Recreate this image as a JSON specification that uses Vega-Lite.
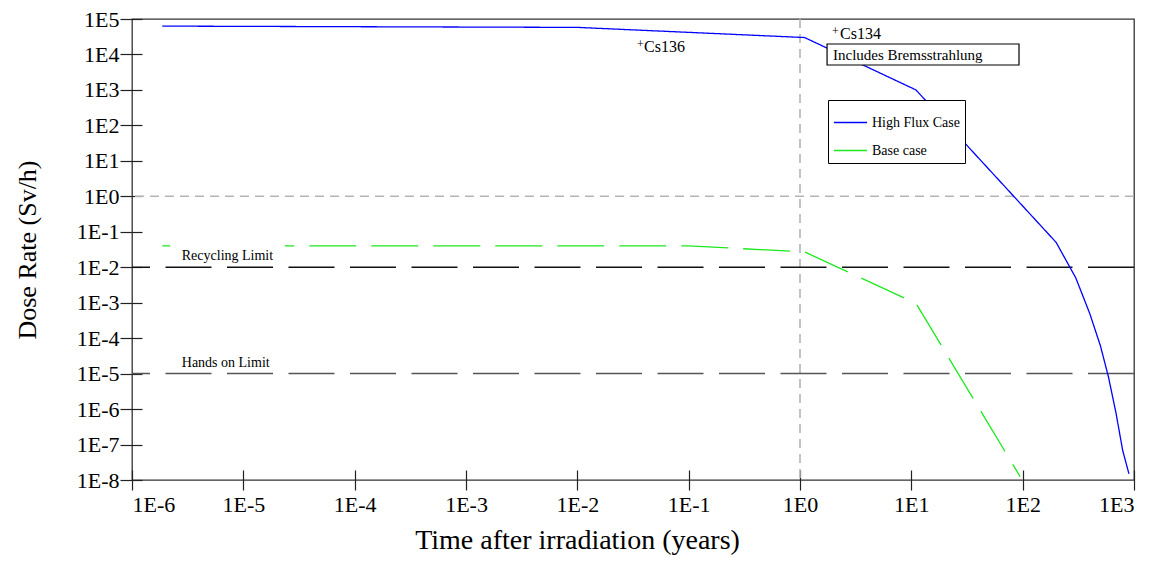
{
  "$schema": "https://vega.github.io/schema/vega-lite/v6.json",
  "width": 1002,
  "height": 461,
  "autosize": {"type": "none"},
  "padding": {"left": 132, "top": 19, "right": 34, "bottom": 91},
  "background": "white",
  "config": {
    "view": {"stroke": "#333333", "strokeWidth": 1.3},
    "font": "Liberation Serif",
    "axis": {
      "grid": false,
      "domain": false,
      "labelFont": "Liberation Serif",
      "titleFont": "Liberation Serif",
      "labelColor": "black",
      "titleColor": "black",
      "tickColor": "#222222",
      "tickWidth": 1.2,
      "titleFontWeight": "normal",
      "labelFontSize": 22
    }
  },
  "layer": [
    {
      "data": {"values": [{"ref": 1}]},
      "mark": {"type": "rule", "color": "#b5b5b5", "strokeWidth": 1.6, "strokeDash": [9, 6]},
      "encoding": {"y": {"field": "ref", "type": "quantitative"}}
    },
    {
      "data": {"values": [{"ref": 1}]},
      "mark": {"type": "rule", "color": "#b5b5b5", "strokeWidth": 1.6, "strokeDash": [9, 6]},
      "encoding": {"x": {"field": "ref", "type": "quantitative"}}
    },
    {
      "data": {"values": [{"limit": "Recycling Limit", "dose": 0.01}]},
      "mark": {"type": "rule", "strokeWidth": 1.5, "strokeDash": [46, 15.5], "color": "#111111"},
      "encoding": {"y": {"field": "dose", "type": "quantitative"}}
    },
    {
      "data": {"values": [{"limit": "Hands on Limit", "dose": 0.00001}]},
      "mark": {"type": "rule", "strokeWidth": 1.5, "strokeDash": [46, 15.5], "color": "#555555"},
      "encoding": {"y": {"field": "dose", "type": "quantitative"}}
    },
    {
      "data": {"values": [
        {"series": "High Flux Case", "t": 0.00000187, "dose": 63000},
        {"series": "High Flux Case", "t": 0.01, "dose": 58000},
        {"series": "High Flux Case", "t": 1.1, "dose": 30000},
        {"series": "High Flux Case", "t": 11, "dose": 1000},
        {"series": "High Flux Case", "t": 200, "dose": 0.05},
        {"series": "High Flux Case", "t": 300, "dose": 0.005},
        {"series": "High Flux Case", "t": 400, "dose": 0.0005},
        {"series": "High Flux Case", "t": 500, "dose": 0.00006},
        {"series": "High Flux Case", "t": 590, "dose": 0.000008},
        {"series": "High Flux Case", "t": 690, "dose": 0.00000076},
        {"series": "High Flux Case", "t": 790, "dose": 0.00000007},
        {"series": "High Flux Case", "t": 900, "dose": 0.000000015},
        {"series": "Base case", "t": 0.00000187, "dose": 0.04},
        {"series": "Base case", "t": 0.1, "dose": 0.04},
        {"series": "Base case", "t": 1.1, "dose": 0.027},
        {"series": "Base case", "t": 11, "dose": 0.00096},
        {"series": "Base case", "t": 95, "dose": 0.0000000124}
      ]},
      "mark": {"type": "line", "strokeWidth": 1.3, "strokeDashOffset": 39},
      "encoding": {
        "x": {
          "field": "t", "type": "quantitative",
          "scale": {"type": "log", "domain": [0.000001, 1000], "nice": false},
          "axis": {
            "values": [0.000001, 0.00001, 0.0001, 0.001, 0.01, 0.1, 1, 10, 100, 1000],
            "labelExpr": "'1E' + round(log(datum.value)/LN10)",
            "title": "Time after irradiation (years)",
            "titleFontSize": 28,
            "titleX": 445,
            "offset": -10,
            "tickSize": 20,
            "labelPadding": 4,
            "titlePadding": 11
          }
        },
        "y": {
          "field": "dose", "type": "quantitative",
          "scale": {"type": "log", "domain": [0.00000001, 100000], "nice": false},
          "axis": {
            "values": [0.00000001, 0.0000001, 0.000001, 0.00001, 0.0001, 0.001, 0.01, 0.1, 1, 10, 100, 1000, 10000, 100000],
            "labelExpr": "'1E' + round(log(datum.value)/LN10)",
            "title": "Dose Rate (Sv/h)",
            "titleFontSize": 26,
            "offset": -10,
            "tickSize": 22,
            "labelPadding": 1,
            "titlePadding": 36
          }
        },
        "color": {
          "field": "series", "type": "nominal",
          "scale": {"domain": ["High Flux Case", "Base case"], "range": ["#0000ff", "#1ee81e"]},
          "legend": {
            "title": null,
            "orient": "none",
            "legendX": 696,
            "legendY": 81,
            "symbolType": "stroke",
            "symbolStrokeWidth": 1.5,
            "symbolSize": 1100,
            "labelFontSize": 14,
            "labelFont": "Liberation Serif",
            "labelColor": "black",
            "labelOffset": 4,
            "labelExpr": "datum.label + '\u2003\u2003\u2003'",
            "strokeColor": "black",
            "fillColor": "white",
            "padding": 5,
            "rowPadding": 3
          }
        },
        "strokeDash": {
          "field": "series", "type": "nominal",
          "scale": {"domain": ["High Flux Case", "Base case"], "range": [[1, 0], [47, 15]]},
          "legend": null
        }
      }
    },
    {
      "data": {"values": [{"x1": 0.00000275, "x2": 0.0000236, "y1": 0.0424, "y2": 0.0108}]},
      "mark": {"type": "rect", "fill": "white", "stroke": null},
      "encoding": {
        "x": {"field": "x1", "type": "quantitative"},
        "x2": {"field": "x2"},
        "y": {"field": "y1", "type": "quantitative"},
        "y2": {"field": "y2"}
      }
    },
    {
      "data": {"values": [{"x1": 1.75, "x2": 92.7, "y1": 19700, "y2": 5050}]},
      "mark": {"type": "rect", "fill": "white", "stroke": "black", "strokeWidth": 1.2},
      "encoding": {
        "x": {"field": "x1", "type": "quantitative"},
        "x2": {"field": "x2"},
        "y": {"field": "y1", "type": "quantitative"},
        "y2": {"field": "y2"}
      }
    },
    {
      "data": {"values": [
        {"label": "Recycling Limit", "x": 0.0000028, "y": 0.0207, "size": 14},
        {"label": "Hands on Limit", "x": 0.0000028, "y": 0.00002, "size": 14},
        {"label": "Includes Bremsstrahlung", "x": 1.98, "y": 9660, "size": 15},
        {"label": "Cs134", "x": 2.29, "y": 37000, "size": 16},
        {"label": "Cs136", "x": 0.0397, "y": 16600, "size": 16},
        {"label": "+", "x": 1.94, "y": 46000, "size": 12},
        {"label": "+", "x": 0.0344, "y": 19700, "size": 12}
      ]},
      "mark": {"type": "text", "align": "left", "baseline": "middle", "font": "Liberation Serif", "color": "black"},
      "encoding": {
        "x": {"field": "x", "type": "quantitative"},
        "y": {"field": "y", "type": "quantitative"},
        "text": {"field": "label"},
        "size": {"field": "size", "type": "quantitative", "scale": null}
      }
    }
  ]
}
